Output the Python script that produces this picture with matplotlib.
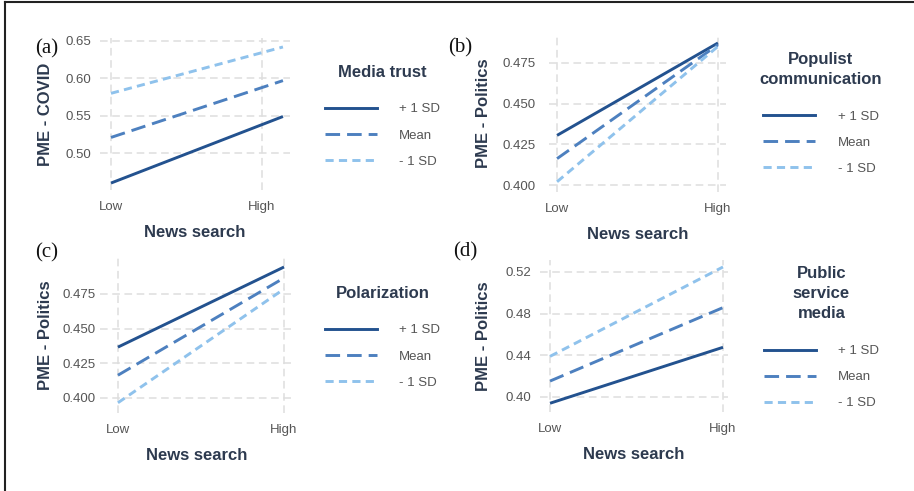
import matplotlib.pyplot as plt
from matplotlib.lines import Line2D

plt.rcParams['font.family'] = ['Liberation Sans', 'DejaVu Sans']

# --- data (Low -> High news search) ---
news_search = [0, 1]
levels = ['+ 1 SD', 'Mean', '- 1 SD']

covid_trust = {'+ 1 SD': [0.460, 0.549], 'Mean': [0.521, 0.597], '- 1 SD': [0.580, 0.642]}
politics_populist = {'+ 1 SD': [0.4305, 0.4873], 'Mean': [0.4162, 0.4862], '- 1 SD': [0.4020, 0.4852]}
politics_polar = {'+ 1 SD': [0.4366, 0.4945], 'Mean': [0.4163, 0.4866], '- 1 SD': [0.3964, 0.4786]}
politics_psm = {'+ 1 SD': [0.3940, 0.4477], 'Mean': [0.4153, 0.4858], '- 1 SD': [0.4390, 0.5248]}

yticks_a = [0.50, 0.55, 0.60, 0.65]
yticks_b = [0.400, 0.425, 0.450, 0.475]
yticks_c = [0.400, 0.425, 0.450, 0.475]
yticks_d = [0.40, 0.44, 0.48, 0.52]

colors = {'+ 1 SD': '#23528f', 'Mean': '#4d80bf', '- 1 SD': '#8fc2ec'}
dashes = {'+ 1 SD': None, 'Mean': (5, 2.4), '- 1 SD': (2.8, 1.8)}

W, H = 914, 491
fig = plt.figure(figsize=(W / 100, H / 100), dpi=100)

LABEL_COL = '#2d3a4f'
TICK_COL = '#555555'
GRID_COL = '#dedede'


def rect(l, r, t, b):
    return [l / W, 1 - b / H, (r - l) / W, (b - t) / H]


panels = [
    # tag, data, yticks, ylabel, legend title, axes px, xlim, high tick, ylim, ypad, ylabel x, legend anchor, tag pos
    ('(a)', covid_trust, yticks_a, 'PME - COVID', 'Media trust',
     (100, 290, 38, 190), (-0.064, 1.041), 0.878, (0.4507, 0.654), 6.5, 46, (318, 58), (35, 49)),
    ('(b)', politics_populist, yticks_b, 'PME - Politics', 'Populist\ncommunication',
     (549, 726, 35, 192), (-0.05, 1.05), 1.0, (0.3957, 0.4922), 9.5, 483, (753, 45), (448, 48)),
    ('(c)', politics_polar, yticks_c, 'PME - Politics', 'Polarization',
     (100, 293, 258, 413), (-0.108, 1.054), 1.0, (0.389, 0.501), 3.5, 46, (318, 279), (35, 253)),
    ('(d)', politics_psm, yticks_d, 'PME - Politics', 'Public\nservice\nmedia',
     (540, 728, 260, 412), (-0.058, 1.029), 1.0, (0.3856, 0.5315), 6.5, 483, (757, 259), (453, 252)),
]

for tag, data, yticks, ylab, ltitle, box, xlim, hi, ylim, ypad, ylx, lanchor, tpos in panels:
    l, r, t, b = box
    ax = fig.add_axes(rect(l, r, t, b))
    for lev in levels:
        kw = dict(color=colors[lev], lw=2.1, label=lev, solid_capstyle='butt')
        if dashes[lev]:
            kw['dashes'] = dashes[lev]
        ax.plot(news_search, data[lev], **kw)
    ax.set_xlim(*xlim)
    ax.set_ylim(*ylim)
    ax.set_xticks([0, hi])
    ax.set_xticklabels(['Low', 'High'])
    ax.set_yticks(yticks)
    if tag in ('(b)', '(c)'):
        ax.set_yticklabels([f'{v:.3f}' for v in yticks])
    else:
        ax.set_yticklabels([f'{v:.2f}' for v in yticks])
    ax.tick_params(length=0, labelsize=9.5, colors=TICK_COL)
    ax.tick_params(axis='x', pad=8)
    ax.tick_params(axis='y', pad=ypad)
    ax.grid(True, color=GRID_COL, lw=1.1, dashes=(5, 3))
    ax.set_axisbelow(True)
    for s in ax.spines.values():
        s.set_visible(False)

    ax.set_xlabel('News search', fontsize=12, fontweight='bold', color=LABEL_COL, labelpad=8.5)
    fig.text(ylx / W, 1 - ((t + b) / 2) / H, ylab, rotation=90, ha='center', va='center',
             fontsize=12, fontweight='bold', color=LABEL_COL)

    handles = [Line2D([], [], color=colors[lev], lw=2.1,
                      dashes=dashes[lev] if dashes[lev] else (None, None)) for lev in levels]
    leg = ax.legend(handles, levels, title=ltitle, loc='upper left',
                    bbox_to_anchor=(lanchor[0] / W, 1 - lanchor[1] / H),
                    bbox_transform=fig.transFigure, frameon=False, borderpad=0,
                    fontsize=9.5, handlelength=3.95, handletextpad=1.7, labelspacing=1.05,
                    title_fontproperties={'weight': 'bold', 'size': 12})
    leg.get_title().set_color(LABEL_COL)
    leg.get_title().set_linespacing(1.45)
    leg.get_title().set_multialignment('center')
    leg._legend_box.sep = 17
    for txt in leg.get_texts():
        txt.set_color(TICK_COL)

    fig.text(tpos[0] / W, 1 - tpos[1] / H, tag, ha='left', va='center',
             fontsize=15, family='Liberation Serif', color='#111111')

# frame lines around the figure (top and left only)
fig.add_artist(Line2D([5 / W, 1], [1 - 2 / H, 1 - 2 / H], color='#222222', lw=1.5))
fig.add_artist(Line2D([5 / W, 5 / W], [0, 1 - 2 / H], color='#222222', lw=1.5))

fig.savefig('out.png', dpi=100)
